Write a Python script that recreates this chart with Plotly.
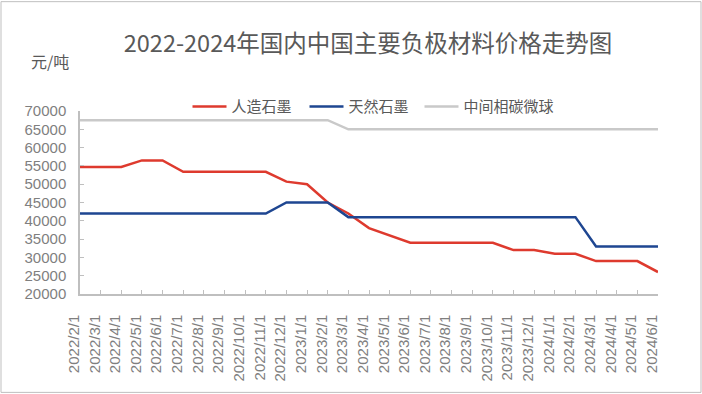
import plotly.graph_objects as go

dates = ["2022/2/1", "2022/3/1", "2022/4/1", "2022/5/1", "2022/6/1", "2022/7/1", "2022/8/1",
         "2022/9/1", "2022/10/1", "2022/11/1", "2022/12/1", "2023/1/1", "2023/2/1", "2023/3/1",
         "2023/4/1", "2023/5/1", "2023/6/1", "2023/7/1", "2023/8/1", "2023/9/1", "2023/10/1",
         "2023/11/1", "2023/12/1", "2024/1/1", "2024/2/1", "2024/3/1", "2024/4/1", "2024/5/1",
         "2024/6/1"]

artificial = [54700, 54700, 54700, 56500, 56500, 53400, 53400, 53400, 53400, 53400, 50700, 50000,
              45000, 42000, 38000, 36000, 34000, 34000, 34000, 34000, 34000, 32000, 32000, 31000,
              31000, 29000, 29000, 29000, 26000]
natural = [42000] * 10 + [45000, 45000, 45000] + [41000] * 12 + [33000] * 4
mcmb = [67500] * 13 + [65000] * 16

y_ticks = [20000, 25000, 30000, 35000, 40000, 45000, 50000, 55000, 60000, 65000, 70000]

series = [("人造石墨", artificial, "#DE3A2E"),
          ("天然石墨", natural, "#1E4691"),
          ("中间相碳微球", mcmb, "#C9C9C9")]

idx = list(range(len(dates)))
FONT = "Noto Sans CJK SC, Liberation Sans, sans-serif"
NUMFONT = "Liberation Sans, Arial, sans-serif"

L, R, T, B = 80, 44, 110.7, 99.7
W, H = 702, 394
pw, ph = W - L - R, H - T - B

legend_names = ["legend", "legend2", "legend3"]
legend_px = [187.5, 304.5, 419.5]

fig = go.Figure()
for (name, vals, color), lg in zip(series, legend_names):
    fig.add_trace(go.Scatter(x=idx, y=vals, name=name, mode="lines", legend=lg,
                             line=dict(color=color, width=2.5)))

legend_common = dict(orientation="h", xanchor="left", y=(294.3 - 106.5) / ph,
                     yanchor="middle", font=dict(size=15, color="#595959"), itemwidth=34,
                     bgcolor="rgba(0,0,0,0)")

fig.update_layout(
    width=W, height=H,
    margin=dict(l=L, r=R, t=T, b=B),
    paper_bgcolor="white", plot_bgcolor="white",
    font=dict(family=FONT, color="#595959"),
    title=dict(text="2022-2024年国内中国主要负极材料价格走势图", x=368 / W, xref="container",
               xanchor="center", y=1 - 44 / H, yref="container", yanchor="middle",
               font=dict(size=23.5, color="#595959", family=FONT)),
    showlegend=True,
    legend=dict(x=(legend_px[0] - L) / pw, **legend_common),
    legend2=dict(x=(legend_px[1] - L) / pw, **legend_common),
    legend3=dict(x=(legend_px[2] - L) / pw, **legend_common),
    xaxis=dict(range=[0, len(dates) - 1], tickmode="array", tickvals=idx, ticktext=dates,
               tickangle=-90, showgrid=False, zeroline=False, showline=True,
               linecolor="#BFBFBF", linewidth=1.5, ticks="inside", ticklen=4,
               tickcolor="#BFBFBF", tickfont=dict(size=15, color="#7F7F7F", family=NUMFONT),
               ticklabelshift=-6, ticklabelstandoff=13),
    yaxis=dict(range=[20000, 70000], tickmode="array", tickvals=y_ticks,
               ticktext=[str(v) for v in y_ticks], showgrid=False, zeroline=False,
               showline=True, linecolor="#BFBFBF", linewidth=1.5, ticks="inside", ticklen=4,
               tickcolor="#BFBFBF", tickfont=dict(size=15, color="#7F7F7F", family=NUMFONT),
               ticklabelstandoff=9),
    annotations=[dict(text="元/吨", x=(49.5 - L) / pw, y=(294.3 - 61) / ph, xref="paper",
                      yref="paper", xanchor="center", yanchor="middle", showarrow=False,
                      font=dict(size=16, color="#595959", family=FONT))],
)

fig.add_shape(type="rect", xref="paper", yref="paper",
              x0=(1 - L) / pw, x1=(701 - L) / pw,
              y0=(294.3 - 393) / ph, y1=(294.3 - 1) / ph,
              line=dict(color="#BFBFBF", width=1), fillcolor="rgba(0,0,0,0)", layer="below")

fig.write_html("out.html", config={"displayModeBar": False},
               post_script="document.body.style.margin='0';")
